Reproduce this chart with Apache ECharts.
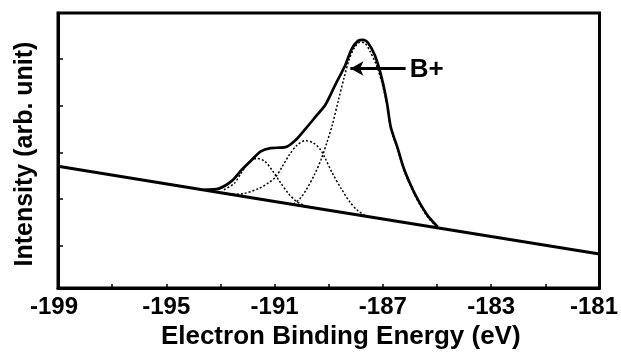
<!DOCTYPE html>
<html>
<head>
<meta charset="utf-8">
<script src="https://cdn.jsdelivr.net/npm/echarts@6/dist/echarts.min.js"></script>
<style>
html,body{margin:0;padding:0;background:#fff;}
#chart{width:621px;height:355px;}
</style>
</head>
<body>
<div id="chart"></div>
<script>
// X tick label values and their printed texts (as in the original figure)
var xLabelValues = [-199, -195, -191, -187, -183, -179];
var xLabelTexts  = ['-199', '-195', '-191', '-187', '-183', '-181'];
// Y tick positions (arb. unit)
var yTickValues = [0.9, 1.9, 2.88, 3.9, 4.9];

// Linear background
var baseline = [[-199, 2.60], [-191, 1.85], [-183, 1.10], [-179, 0.73]];

// Measured envelope (solid)
var envelope = [
  [-193.61, 2.10], [-193.06, 2.125], [-192.58, 2.29], [-192.21, 2.53], [-191.84, 2.74],
  [-191.51, 2.92], [-191.15, 2.99], [-190.60, 3.01], [-190.23, 3.16], [-189.86, 3.40],
  [-189.50, 3.65], [-189.13, 3.91], [-188.76, 4.34], [-188.39, 4.76], [-188.16, 5.10],
  [-187.92, 5.28], [-187.73, 5.30], [-187.55, 5.24], [-187.29, 4.96], [-187.04, 4.48],
  [-186.85, 3.96], [-186.71, 3.44], [-186.45, 2.98], [-186.23, 2.56], [-186.01, 2.25],
  [-185.79, 1.98], [-185.57, 1.75], [-185.31, 1.52], [-184.98, 1.31]
];

// Fitted components (dotted)
var comp1 = [
  [-192.87, 2.10], [-192.50, 2.23], [-192.25, 2.44], [-191.95, 2.69], [-191.66, 2.77],
  [-191.37, 2.71], [-191.07, 2.50], [-190.78, 2.25], [-190.49, 2.02], [-190.19, 1.85],
  [-189.90, 1.77]
];
var comp2 = [
  [-192.69, 2.00], [-192.14, 2.02], [-191.59, 2.125], [-191.22, 2.25], [-190.96, 2.375],
  [-190.71, 2.60], [-190.45, 2.85], [-190.19, 3.04], [-189.86, 3.15], [-189.57, 3.10],
  [-189.31, 2.96], [-189.13, 2.77], [-188.87, 2.46], [-188.54, 2.125], [-188.21, 1.83],
  [-187.92, 1.65], [-187.62, 1.54]
];
var comp3 = [
  [-190.30, 1.79], [-190.05, 1.92], [-189.83, 2.10], [-189.53, 2.42], [-189.28, 2.75],
  [-189.06, 3.125], [-188.87, 3.48], [-188.65, 4.00], [-188.43, 4.50], [-188.25, 4.875],
  [-188.06, 5.125], [-187.84, 5.25], [-187.66, 5.23], [-187.48, 5.06], [-187.26, 4.79],
  [-187.04, 4.40], [-186.85, 3.92], [-186.71, 3.40], [-186.45, 2.95], [-186.23, 2.53],
  [-186.01, 2.22], [-185.79, 1.95], [-185.57, 1.72], [-185.31, 1.49], [-184.98, 1.30]
];

// Annotation
var arrowFrom = [-186.16, 4.69];
var arrowTo   = [-188.20, 4.69];
var annotText = 'B+';
var annotPos  = [-185.38, 4.67];

var FONT = 'Liberation Sans, Arial, Helvetica, sans-serif';
var chart = echarts.init(document.getElementById('chart'), null, {renderer: 'canvas'});

var dotted = {color: '#000', width: 1.5, type: [2, 2]};
var tickFont = {fontFamily: FONT, fontWeight: 'bold', fontSize: 24, color: '#000'};

chart.setOption({
  animation: false,
  backgroundColor: '#fff',
  grid: {left: 58, right: 18, top: 13, bottom: 60, show: true, borderColor: '#000', borderWidth: 3, backgroundColor: 'transparent'},
  xAxis: {
    type: 'value', min: -199, max: -179, interval: 2,
    axisLine: {show: true, lineStyle: {color: '#000', width: 3}},
    axisTick: {show: true, inside: true, length: 4, lineStyle: {color: '#000', width: 1.5}},
    splitLine: {show: false},
    axisLabel: {
      show: true, margin: 7, color: '#000', fontFamily: FONT, fontWeight: 'bold', fontSize: 24,
      customValues: xLabelValues,
      formatter: function (v) {
        var i = xLabelValues.indexOf(Math.round(v));
        if (i < 0) return '';
        if (i === 0) return '{first|' + xLabelTexts[i] + '}';
        if (i === xLabelValues.length - 1) return '{last|' + xLabelTexts[i] + '}';
        return xLabelTexts[i];
      },
      rich: {
        first: Object.assign({padding: [0, 8, 0, 0]}, tickFont),
        last: Object.assign({padding: [0, 11, 0, 0]}, tickFont)
      }
    },
    name: 'Electron Binding Energy (eV)', nameLocation: 'middle', nameGap: 34,
    nameTextStyle: {color: '#000', fontFamily: FONT, fontWeight: 'bold', fontSize: 26, padding: [0, 0, 0, 24]}
  },
  yAxis: {
    type: 'value', min: 0, max: 5.875,
    axisLine: {show: true, lineStyle: {color: '#000', width: 3}},
    axisTick: {show: true, inside: true, length: 5, customValues: yTickValues, lineStyle: {color: '#000', width: 1.5}},
    axisLabel: {show: false},
    splitLine: {show: false},
    name: 'Intensity (arb. unit)', nameLocation: 'middle', nameGap: 20,
    nameTextStyle: {color: '#000', fontFamily: FONT, fontWeight: 'bold', fontSize: 25, padding: [0, 7, 0, 0]}
  },
  series: [
    {type: 'line', data: baseline, showSymbol: false, symbol: 'none', lineStyle: {color: '#000', width: 3}, z: 3},
    {type: 'line', data: comp1, showSymbol: false, symbol: 'none', smooth: 0.3, lineStyle: dotted, z: 2},
    {type: 'line', data: comp2, showSymbol: false, symbol: 'none', smooth: 0.3, lineStyle: dotted, z: 2},
    {type: 'line', data: comp3, showSymbol: false, symbol: 'none', smooth: 0.3, lineStyle: dotted, z: 2},
    {type: 'line', data: envelope, showSymbol: false, symbol: 'none', smooth: 0.25, lineStyle: {color: '#000', width: 2.7}, z: 4,
      markLine: {
        silent: true, symbol: ['none', 'arrow'], symbolSize: [11, 13],
        lineStyle: {color: '#000', width: 3, type: 'solid'},
        label: {show: false},
        data: [[{coord: arrowFrom}, {coord: arrowTo}]]
      },
      markPoint: {
        silent: true, symbol: 'circle', symbolSize: 1, itemStyle: {color: 'rgba(0,0,0,0)'},
        label: {show: true, position: 'inside', formatter: annotText, color: '#000', fontFamily: FONT, fontWeight: 'bold', fontSize: 26},
        data: [{coord: annotPos}]
      }
    }
  ]
});
</script>
</body>
</html>
